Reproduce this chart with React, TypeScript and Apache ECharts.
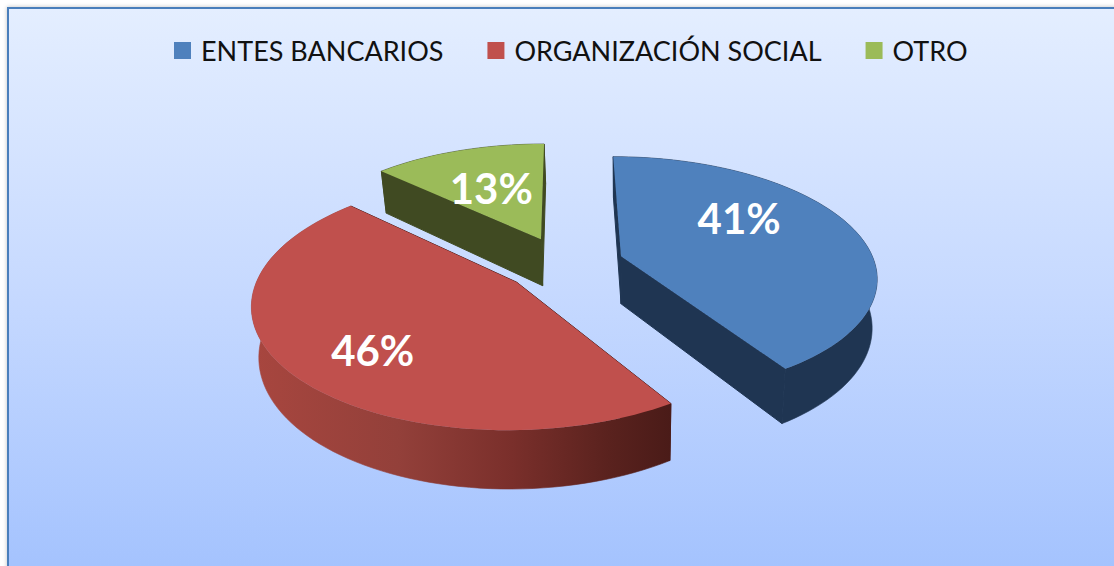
import React, { useEffect, useRef } from "react";
import * as echarts from "echarts";

const categories = ["ENTES BANCARIOS", "ORGANIZACIÓN SOCIAL", "OTRO"];
const values = [41, 46, 13];
const topColors = ["#4f81bd", "#c0504d", "#9bbb59"];
const wallStops = [
  [[0, "#1f3552"], [1, "#1f3552"]],
  [[0, "#a8463f"], [0.35, "#93403a"], [0.62, "#7a2f2b"], [0.85, "#5a221e"], [1, "#4a1b18"]],
  [[0, "#404a22"], [1, "#404a22"]],
];
const labelAngles = [55.4, 224.3, 336];
const labelRadii = [157, 179, 141];
const drawOrder = [2, 1, 0];

const CX = 564;
const CY = 264;
const R = 254;
const TILT = 0.464;
const PERSP = 0.16;
const EXPLODE = 60;
const DEPTH = 48;
const LEAN = 0.02;
const LEAN_SHIFT = 60;
const STEP = 2;

const total = values.reduce((a, b) => a + b, 0);
const sliceAngles = (i: number) => {
  const before = values.slice(0, i).reduce((a, b) => a + b, 0);
  return [(before / total) * 360, ((before + values[i]) / total) * 360];
};
const rad = (d: number) => (d * Math.PI) / 180;

function project(u: number, v: number, z: number) {
  const s = 1 / (1 - (PERSP * v) / R);
  const x = u * s;
  const lean = ((LEAN * z) / DEPTH) * (LEAN_SHIFT - x);
  return [CX + x + lean, CY + v * TILT * s + z * s];
}

function renderSlice(i: number) {
  const [a0, a1] = sliceAngles(i);
  const mid = rad((a0 + a1) / 2);
  const ou = Math.sin(mid) * EXPLODE;
  const ov = -Math.cos(mid) * EXPLODE;
  const arc: number[][] = [];
  for (let a = a0; a < a1; a += STEP) {
    arc.push([ou + Math.sin(rad(a)) * R, ov - Math.cos(rad(a)) * R]);
  }
  arc.push([ou + Math.sin(rad(a1)) * R, ov - Math.cos(rad(a1)) * R]);
  const apex = [ou, ov];
  const top = [apex, ...arc].map((p) => project(p[0], p[1], 0));
  const outerWall = [
    ...arc.map((p) => project(p[0], p[1], 0)),
    ...arc.slice().reverse().map((p) => project(p[0], p[1], DEPTH)),
  ];
  const radialWall = (p: number[]) => [
    project(apex[0], apex[1], 0),
    project(p[0], p[1], 0),
    project(p[0], p[1], DEPTH),
    project(apex[0], apex[1], DEPTH),
  ];
  const stops = wallStops[i].map(([offset, color]) => ({ offset, color }));
  const wallFill = { type: "linear", x: 0, y: 0, x2: 1, y2: 0, colorStops: stops };
  const flat = stops[stops.length - 1].color;
  const la = rad(labelAngles[i]);
  const labelPos = project(
    ou + Math.sin(la) * labelRadii[i],
    ov - Math.cos(la) * labelRadii[i],
    0
  );
  return {
    type: "group",
    children: [
      { type: "polygon", shape: { points: radialWall(arc[0]) }, style: { fill: flat, stroke: flat, lineWidth: 1 } },
      { type: "polygon", shape: { points: radialWall(arc[arc.length - 1]) }, style: { fill: flat, stroke: flat, lineWidth: 1 } },
      { type: "polygon", shape: { points: outerWall }, style: { fill: wallFill, stroke: wallFill, lineWidth: 0.6 } },
      { type: "polygon", shape: { points: top }, style: { fill: topColors[i] } },
      {
        type: "text",
        x: labelPos[0],
        y: labelPos[1],
        style: {
          text: `${values[i]}%`,
          fill: "#ffffff",
          font: 'bold 42px Lato, "Noto Sans", sans-serif',
          textAlign: "center",
          textVerticalAlign: "middle",
        },
      },
    ],
  };
}

export default function App() {
  const ref = useRef<HTMLDivElement>(null);
  useEffect(() => {
    document.body.style.margin = "0";
    document.body.style.background = "#ffffff";
    const chart = echarts.init(ref.current!, undefined, { renderer: "svg" });
    chart.setOption({
      animation: false,
      backgroundColor: "#ffffff",
      graphic: [
        {
          type: "rect",
          z: -10,
          shape: { x: 8, y: 8, width: 1120, height: 570 },
          style: {
            fill: {
              type: "linear",
              x: 0,
              y: 0,
              x2: 0,
              y2: 1,
              colorStops: [
                { offset: 0, color: "#e4eeff" },
                { offset: 0.5, color: "#c6d9ff" },
                { offset: 1, color: "#a3c2fe" },
              ],
            },
            stroke: "#4a7ebb",
            lineWidth: 2,
            shadowBlur: 4,
            shadowColor: "rgba(0,0,0,0.25)",
          },
        },
      ],
      legend: {
        left: 169,
        top: 32,
        itemWidth: 17,
        itemHeight: 17,
        itemGap: 44,
        icon: "rect",
        data: categories,
        textStyle: {
          color: "#111111",
          fontSize: 27,
          fontFamily: 'Lato, "Noto Sans", sans-serif',
          padding: [0, 0, 0, 5],
        },
      },
      series: drawOrder.map((i) => ({
        type: "custom",
        name: categories[i],
        coordinateSystem: "none",
        itemStyle: { color: topColors[i] },
        data: [values[i]],
        renderItem: () => renderSlice(i),
      })),
    });
    return () => chart.dispose();
  }, []);
  return <div ref={ref} style={{ width: 1114, height: 566 }} />;
}
